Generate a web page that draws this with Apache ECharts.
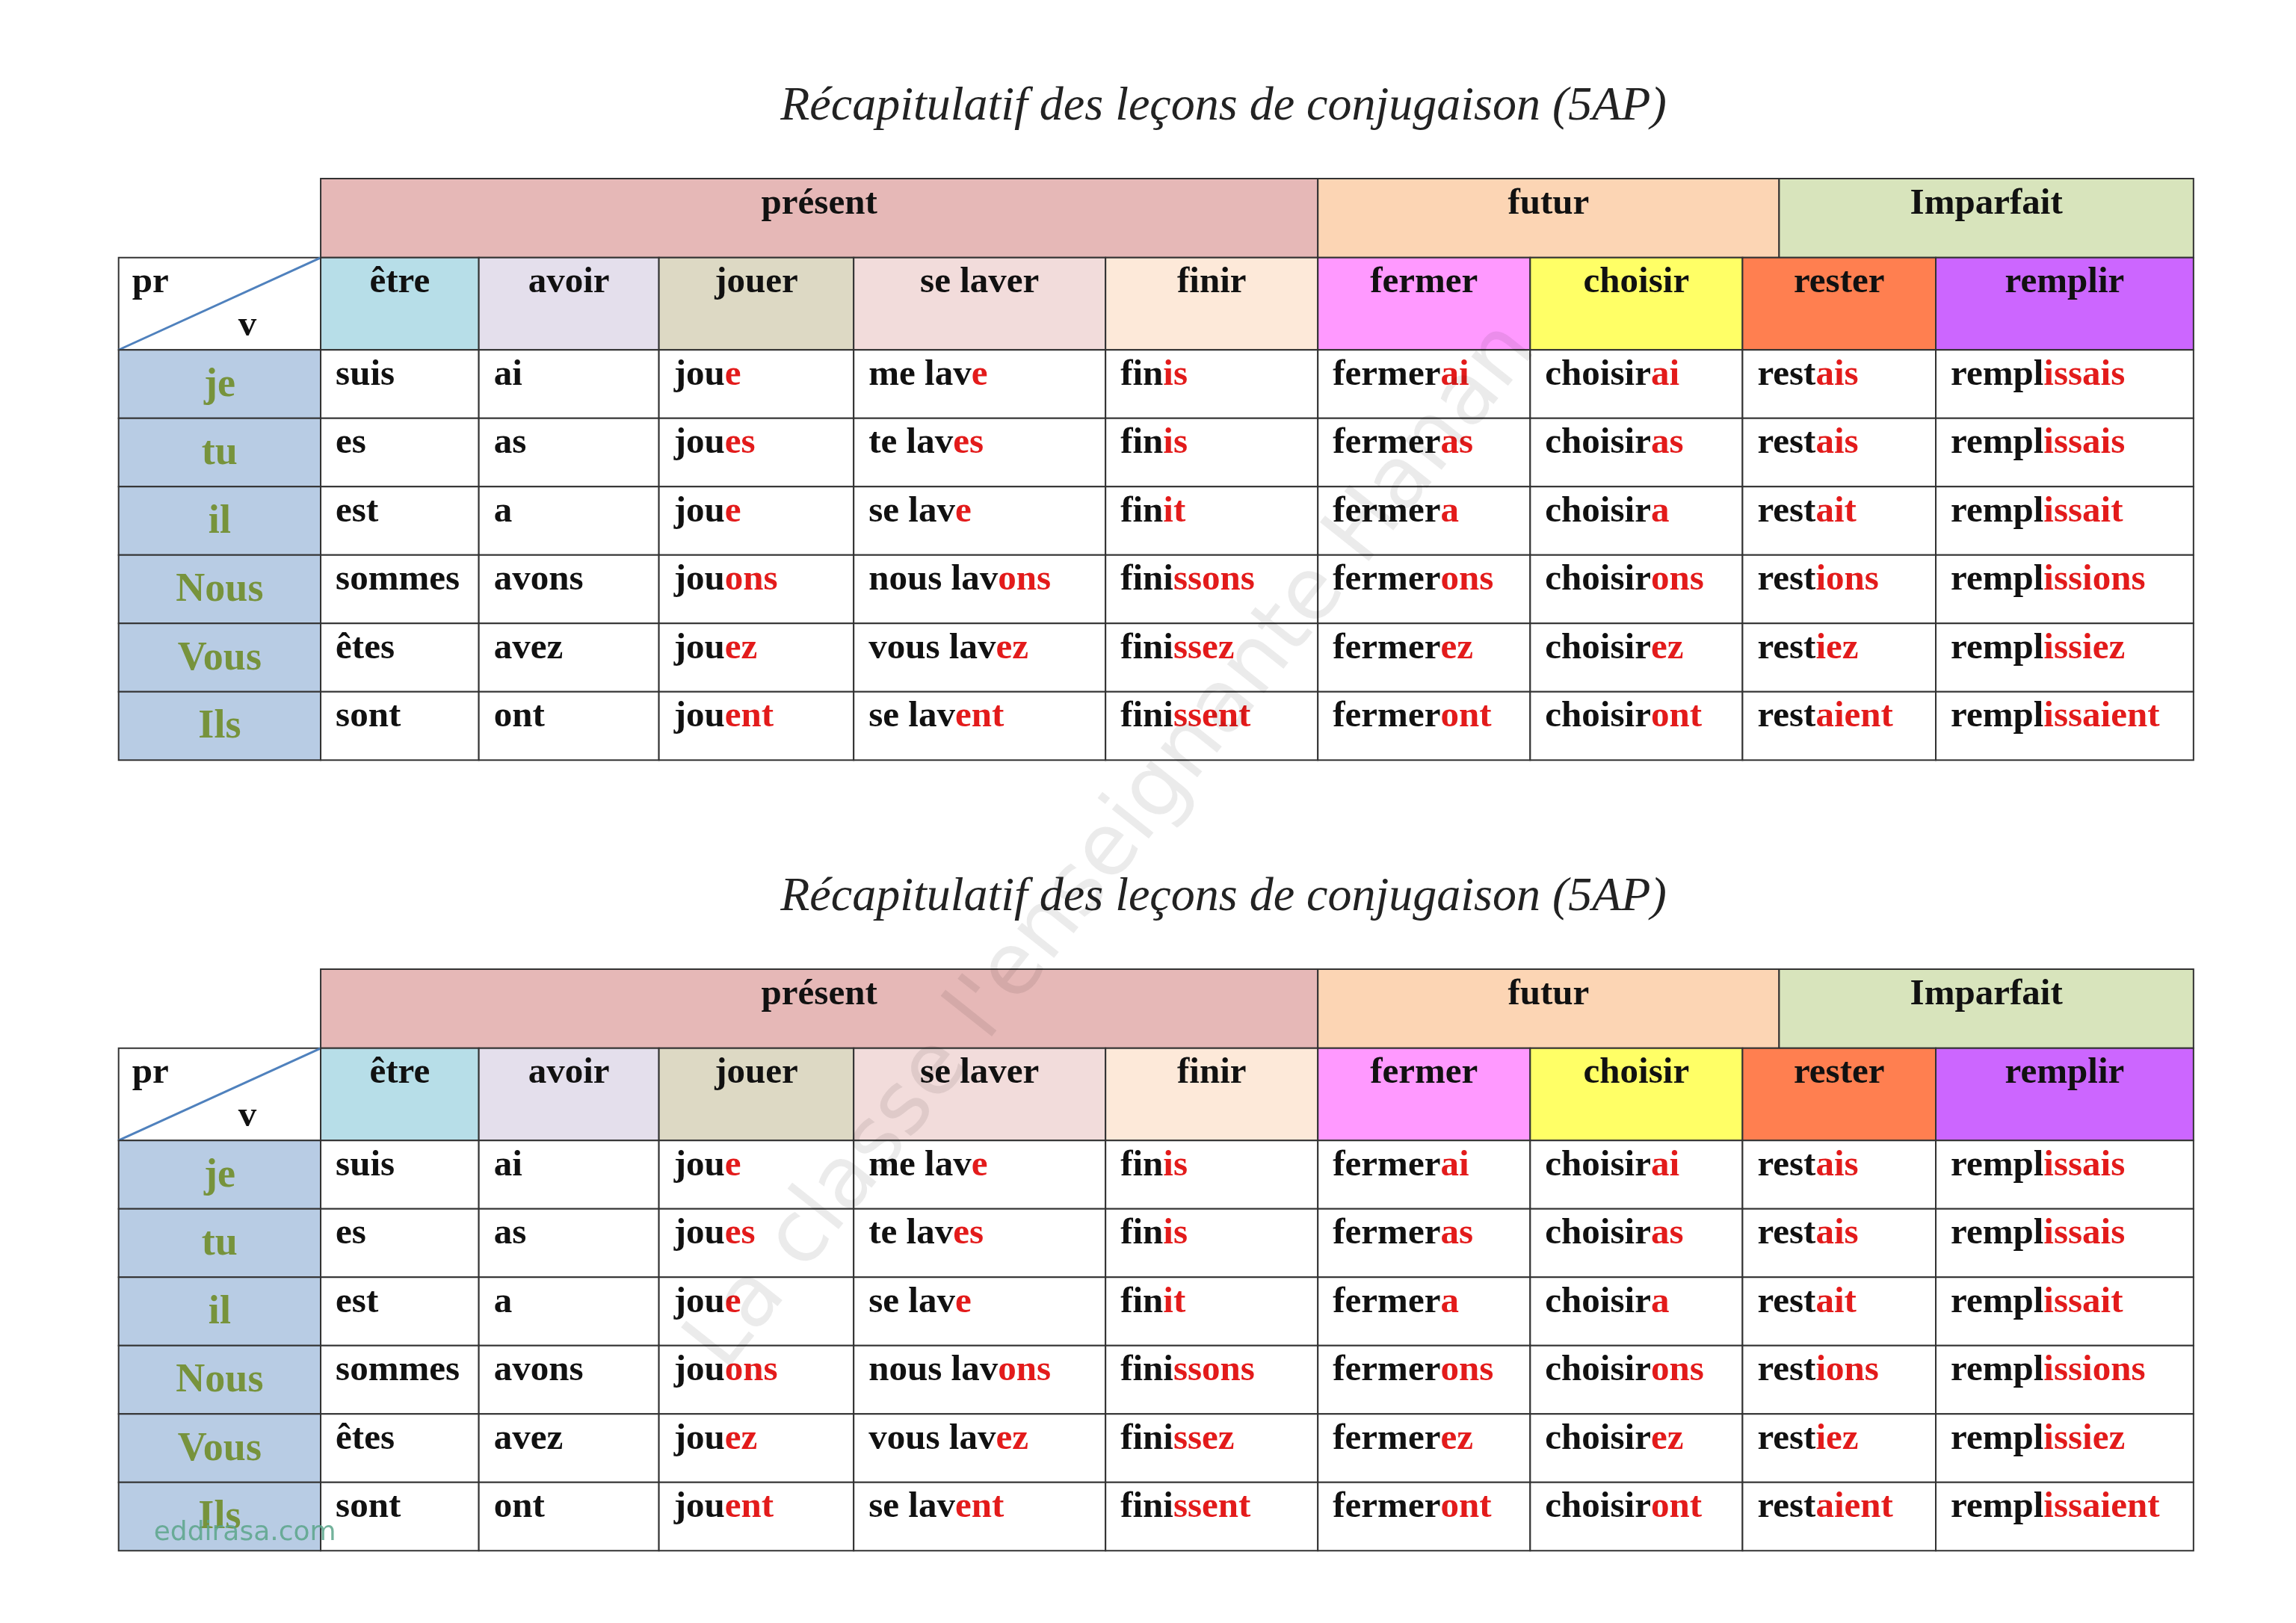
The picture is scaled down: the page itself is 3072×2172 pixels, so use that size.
<!DOCTYPE html>
<html><head><meta charset="utf-8">
<script src="https://cdn.jsdelivr.net/npm/echarts@6/dist/echarts.min.js"></script>
<style>html,body{margin:0;background:#fff}#c{width:3072px;height:2172px}</style>
</head><body><div id="c"></div>
<script>
const title = "Récapitulatif des leçons de conjugaison (5AP)";
const tenses = ["présent", "futur", "Imparfait"];
const verbs = ["être","avoir","jouer","se laver","finir","fermer","choisir","rester","remplir"];
const pronouns = ["je","tu","il","Nous","Vous","Ils"];
// each conjugation: [stem, red ending]
const etre = [["suis",""],["es",""],["est",""],["sommes",""],["êtes",""],["sont",""]];
const avoir = [["ai",""],["as",""],["a",""],["avons",""],["avez",""],["ont",""]];
const jouer = [["jou","e"],["jou","es"],["jou","e"],["jou","ons"],["jou","ez"],["jou","ent"]];
const seLaver = [["me lav","e"],["te lav","es"],["se lav","e"],["nous lav","ons"],["vous lav","ez"],["se lav","ent"]];
const finir = [["fin","is"],["fin","is"],["fin","it"],["fini","ssons"],["fini","ssez"],["fini","ssent"]];
const fermer = [["fermer","ai"],["fermer","as"],["fermer","a"],["fermer","ons"],["fermer","ez"],["fermer","ont"]];
const choisir = [["choisir","ai"],["choisir","as"],["choisir","a"],["choisir","ons"],["choisir","ez"],["choisir","ont"]];
const rester = [["rest","ais"],["rest","ais"],["rest","ait"],["rest","ions"],["rest","iez"],["rest","aient"]];
const remplir = [["rempl","issais"],["rempl","issais"],["rempl","issait"],["rempl","issions"],["rempl","issiez"],["rempl","issaient"]];
const conj = [etre, avoir, jouer, seLaver, finir, fermer, choisir, rester, remplir];

// ---- layout (in reference display units, scaled) ----
const S = 3072/1568;
const colEdges = [81,219,327,450,583,755,900,1045,1190,1322,1498];
const tenseSpans = [[219,900],[900,1215],[1215,1498]];
const tenseColors = ["#e6b8b7","#fcd5b4","#d8e4bc"];
const verbColors = ["#b7dee8","#e4dfec","#ddd9c4","#f2dcdb","#fde9d9","#ff99ff","#ffff66","#ff7f50","#cc66ff"];
const tableTops = [122, 662];
const titleYs = [75, 615];
const rowH = 46.7;

const FONT = "'Liberation Serif','Times New Roman',serif";
const FS = 49;
const items = [];
function rect(x0,x1,y0,y1,fill,kind,text,extra){items.push({value:[x0*S,x1*S,y0*S,y1*S],fill,kind,text,extra});}
tableTops.forEach(t=>{
  tenseSpans.forEach((s,i)=>rect(s[0],s[1],t,t+54,tenseColors[i],'tense',tenses[i]));
  const h1=t+54,h2=t+117;
  rect(81,219,h1,h2,'#ffffff','corner','');
  verbs.forEach((v,i)=>rect(colEdges[i+1],colEdges[i+2],h1,h2,verbColors[i],'verb',v));
  pronouns.forEach((p,r)=>{
    const y0=h2+r*rowH,y1=h2+(r+1)*rowH;
    rect(81,219,y0,y1,'#b8cce4','pron',p);
    conj.forEach((c,i)=>rect(colEdges[i+1],colEdges[i+2],y0,y1,'#ffffff','cell',c[r][0],c[r][1]));
  });
});

const chart = echarts.init(document.getElementById('c'));
chart.setOption({
  animation:false,
  backgroundColor:'#ffffff',
  title: titleYs.map(y=>({text:title,left:833*S,top:(y-21)*S,textAlign:'center',
    textStyle:{fontFamily:FONT,fontStyle:'italic',fontWeight:'normal',fontSize:64,color:'#222'}})),
  grid:{left:0,right:0,top:0,bottom:0},
  xAxis:{type:'value',min:0,max:3072,show:false},
  yAxis:{type:'value',min:0,max:2172,inverse:true,show:false},
  series:[{
    type:'custom',
    data:items,
    encode:{x:[0,1],y:[2,3]},
    renderItem:(params,api)=>{
      const d=items[params.dataIndex];
      const p0=api.coord([api.value(0),api.value(2)]), p1=api.coord([api.value(1),api.value(3)]);
      const w=p1[0]-p0[0], h=p1[1]-p0[1];
      const ch=[{type:'rect',shape:{x:p0[0],y:p0[1],width:w,height:h},style:{fill:d.fill,stroke:'#333',lineWidth:2}}];
      const base={fontFamily:FONT,fontWeight:'bold',fontSize:FS,fill:'#111'};
      if(d.kind==='tense'||d.kind==='verb'){
        ch.push({type:'text',style:Object.assign({},base,{text:d.text,x:p0[0]+w/2,y:p0[1]+34,align:'center',verticalAlign:'middle'})});
      } else if(d.kind==='pron'){
        ch.push({type:'text',style:Object.assign({},base,{text:d.text,x:p0[0]+w/2,y:p0[1]+h/2+2,align:'center',verticalAlign:'middle',fill:'#77933c',fontSize:54})});
      } else if(d.kind==='corner'){
        ch.push({type:'line',shape:{x1:p0[0],y1:p1[1],x2:p1[0],y2:p0[1]},style:{stroke:'#4f81bd',lineWidth:3}});
        ch.push({type:'text',style:Object.assign({},base,{text:'pr',x:p0[0]+18,y:p0[1]+34,verticalAlign:'middle'})});
        ch.push({type:'text',style:Object.assign({},base,{text:'v',x:p0[0]+160,y:p0[1]+92,verticalAlign:'middle'})});
      } else {
        ch.push({type:'text',style:Object.assign({},base,{x:p0[0]+20,y:p0[1]+34,verticalAlign:'middle',
          text:'{a|'+d.text+'}'+(d.extra?'{b|'+d.extra+'}':''),
          rich:{a:{fontFamily:FONT,fontWeight:'bold',fontSize:FS,fill:'#111'},b:{fontFamily:FONT,fontWeight:'bold',fontSize:FS,fill:'#e31b1b'}}})});
      }
      return {type:'group',children:ch};
    }
  }],
  graphic:[{type:'text',left:105*S,top:1038*S,z:100,style:{text:'eddirasa.com',font:'36px "DejaVu Sans"',fill:'#5aa58a',opacity:0.85}},
           {type:'text',x:460*S,y:910*S,rotation:0.9,z:100,style:{text:"La classe l'enseignante Hanan",font:'115px "DejaVu Sans"',fill:'rgba(0,0,0,0.08)'}}]
});
</script></body></html>
